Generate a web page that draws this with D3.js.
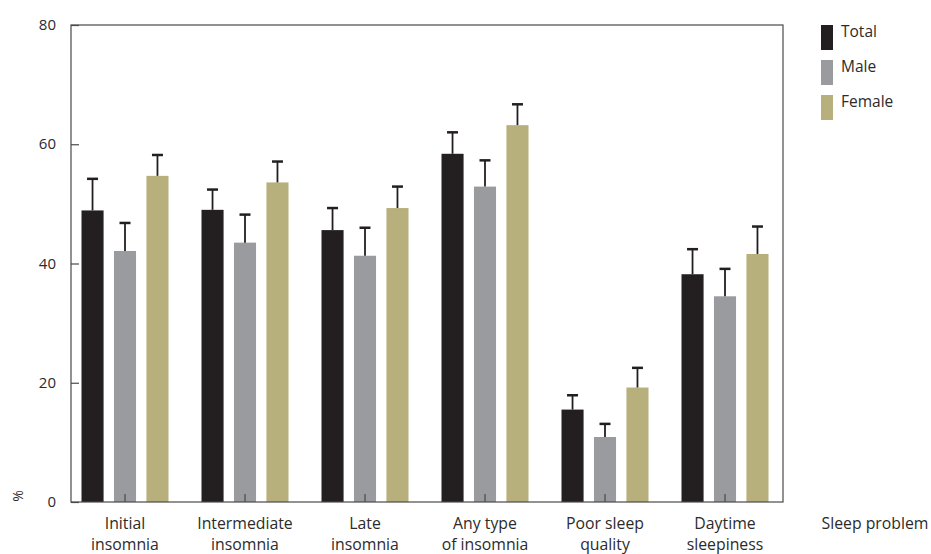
<!DOCTYPE html>
<html>
<head>
    <meta charset="UTF-8">
    <title>Sleep problems</title>
    <script src="https://cdn.jsdelivr.net/npm/d3@7"></script>
    <style>
        body { margin: 0; background: #fff; }
        text { font-family: "Open Sans", sans-serif; fill: #2b2b2b; }
    </style>
</head>
<body>
<div id="chart"></div>
<script>
    // Data
    const categories = [
        ["Initial", "insomnia"],
        ["Intermediate", "insomnia"],
        ["Late", "insomnia"],
        ["Any type", "of insomnia"],
        ["Poor sleep", "quality"],
        ["Daytime", "sleepiness"]
    ];
    const groups = ["Total", "Male", "Female"];
    const totalValues = [48.9, 49.0, 45.6, 58.4, 15.5, 38.2];
    const totalUpper = [54.2, 52.4, 49.3, 62.0, 17.9, 42.4];
    const maleValues = [42.1, 43.5, 41.3, 52.9, 10.9, 34.5];
    const maleUpper = [46.8, 48.2, 46.0, 57.3, 13.1, 39.1];
    const femaleValues = [54.7, 53.6, 49.3, 63.2, 19.2, 41.6];
    const femaleUpper = [58.2, 57.1, 52.9, 66.7, 22.5, 46.2];
    const yTicks = [0, 20, 40, 60, 80];

    const colors = { Total: "#231f20", Male: "#9a9b9f", Female: "#b8b07c" };

    const rows = [];
    categories.forEach((c, i) => {
        rows.push({ cat: i, group: "Total", value: totalValues[i], upper: totalUpper[i] });
        rows.push({ cat: i, group: "Male", value: maleValues[i], upper: maleUpper[i] });
        rows.push({ cat: i, group: "Female", value: femaleValues[i], upper: femaleUpper[i] });
    });

    const width = 931, height = 554;
    const plotLeft = 71, plotRight = 783, plotTop = 25, plotBottom = 502;

    const svg = d3.select("#chart").append("svg")
        .attr("width", width)
        .attr("height", height);

    const x = d3.scaleBand()
        .domain(d3.range(categories.length))
        .range([65, 785]);

    const xInner = d3.scaleBand()
        .domain(groups)
        .range([-43.5, 43.5])
        .paddingInner(0.32);

    const y = d3.scaleLinear()
        .domain([0, 80])
        .range([plotBottom, plotTop]);

    // bars
    svg.selectAll(".bar")
        .data(rows)
        .join("rect")
        .attr("class", "bar")
        .attr("x", d => x(d.cat) + x.bandwidth() / 2 + xInner(d.group))
        .attr("width", xInner.bandwidth())
        .attr("y", d => y(d.value))
        .attr("height", d => y(0) - y(d.value))
        .attr("fill", d => colors[d.group]);

    // error bars (upper only)
    const err = svg.selectAll(".err")
        .data(rows)
        .join("g")
        .attr("class", "err")
        .attr("transform", d => `translate(${x(d.cat) + x.bandwidth() / 2 + xInner(d.group) + xInner.bandwidth() / 2},0)`);

    err.append("line")
        .attr("x1", 0).attr("x2", 0)
        .attr("y1", d => y(d.value))
        .attr("y2", d => y(d.upper))
        .attr("stroke", "#231f20")
        .attr("stroke-width", 1.8);

    err.append("line")
        .attr("x1", -5.5).attr("x2", 5.5)
        .attr("y1", d => y(d.upper))
        .attr("y2", d => y(d.upper))
        .attr("stroke", "#231f20")
        .attr("stroke-width", 2.5);

    // frame
    svg.append("rect")
        .attr("x", plotLeft)
        .attr("y", plotTop)
        .attr("width", plotRight - plotLeft)
        .attr("height", plotBottom - plotTop)
        .attr("fill", "none")
        .attr("stroke", "#4a4a4a")
        .attr("stroke-width", 1.2);

    // y axis (ticks inside)
    const yAxis = svg.append("g")
        .attr("transform", `translate(${plotLeft},0)`)
        .call(d3.axisRight(y).tickValues(yTicks).tickSize(8).tickFormat(""));
    yAxis.select(".domain").remove();
    yAxis.selectAll(".tick line").attr("stroke", "#4a4a4a").attr("stroke-width", 1.2);

    svg.selectAll(".ylab")
        .data(yTicks)
        .join("text")
        .attr("class", "ylab")
        .attr("x", 56)
        .attr("y", d => y(d) + 5)
        .attr("text-anchor", "end")
        .attr("font-size", 15)
        .text(d => d);

    svg.append("text")
        .attr("transform", `translate(23,${plotBottom - 6}) rotate(-90)`)
        .attr("text-anchor", "middle")
        .attr("font-size", 14)
        .text("%");

    // x axis ticks (inside, at group centre)
    const xAxis = svg.append("g")
        .attr("transform", `translate(0,${plotBottom})`)
        .call(d3.axisTop(x).tickSize(8).tickFormat(""));
    xAxis.select(".domain").remove();
    xAxis.selectAll(".tick line").attr("stroke", "#4a4a4a").attr("stroke-width", 1.2);

    const catLabels = svg.selectAll(".xlab")
        .data(categories)
        .join("text")
        .attr("class", "xlab")
        .attr("text-anchor", "middle")
        .attr("font-size", 15.8)
        .attr("x", (d, i) => x(i) + x.bandwidth() / 2)
        .attr("y", 529);
    catLabels.selectAll("tspan")
        .data(d => d)
        .join("tspan")
        .attr("x", function () { return this.parentNode.getAttribute("x"); })
        .attr("dy", (d, i) => i === 0 ? 0 : 21)
        .text(d => d);

    svg.append("text")
        .attr("x", 875)
        .attr("y", 529)
        .attr("text-anchor", "middle")
        .attr("font-size", 15.8)
        .text("Sleep problem");

    // legend
    const legend = svg.selectAll(".legend")
        .data(groups)
        .join("g")
        .attr("class", "legend")
        .attr("transform", (d, i) => `translate(821,${25 + i * 35})`);

    legend.append("rect")
        .attr("width", 12)
        .attr("height", 25)
        .attr("fill", d => colors[d]);

    legend.append("text")
        .attr("x", 20)
        .attr("y", 12)
        .attr("font-size", 15.5)
        .text(d => d);
</script>
</body>
</html>
